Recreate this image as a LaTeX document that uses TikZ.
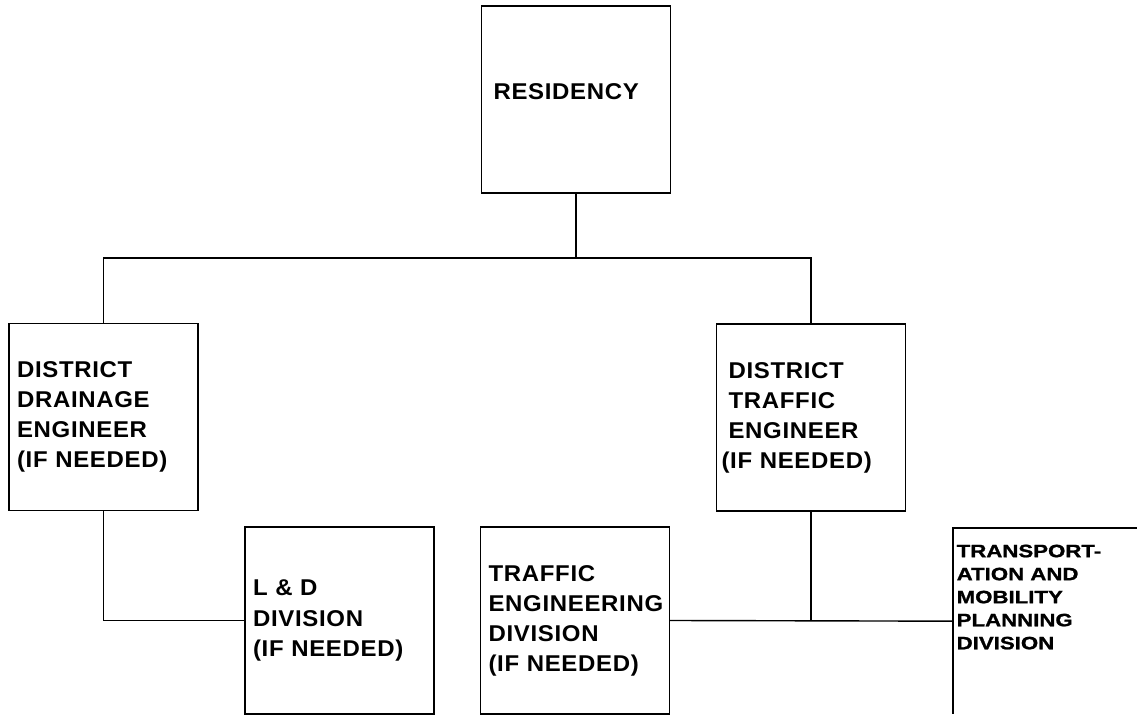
\documentclass[tikz,border=0pt]{standalone}
\usepackage{fontspec}
\setmainfont{Liberation Sans}
\newfontfamily\unitfont[FakeStretch=1.05,LetterSpace=3]{Liberation Sans}
\newfontfamily\widefont[FakeStretch=1.24,FakeBold=1.2]{Liberation Sans}
\usepackage{tikz}
\usetikzlibrary{positioning}
\begin{document}
\begin{tikzpicture}
	[x=0.02cm,y=-0.02cm,line width=0.8pt,
	unit/.style={rectangle,draw,minimum width=3.78cm,minimum height=3.74cm,inner xsep=0.16cm,text width=3.46cm,align=left,font=\unitfont\bfseries\fontsize{13}{17.1}\selectfont},
	open/.style={rectangle,minimum width=3.8cm,minimum height=3.7cm,inner sep=0pt},
	openlabel/.style={inner sep=0pt,align=left,font=\widefont\bfseries\fontsize{10.2}{13.1}\selectfont}]
	\useasboundingbox (0,0) rectangle (1137,715);
	\node [unit,inner xsep=0.24cm,text width=3.3cm,text depth=0.32cm] (res) at (576,99.5) {RESIDENCY};
	\node [unit] (dde) at (103.5,417) {DISTRICT\\DRAINAGE\\ENGINEER\\(IF NEEDED)};
	\node [unit,inner xsep=0.1cm,text width=3.58cm] (dte) at (811,417.5) {\hspace{0.14cm}DISTRICT\\\hspace{0.14cm}TRAFFIC\\\hspace{0.14cm}ENGINEER\\(IF NEEDED)};
	\node [unit] (ld) at (339.5,620.5) {L \& D\\DIVISION\\(IF NEEDED)};
	\node [unit] (ted) at (575,620.5) {TRAFFIC\\ENGINEERING\\DIVISION\\(IF NEEDED)};
	\node [open,anchor=north west] (tmp) at (953,528) {};
	\node [openlabel,anchor=north west] (tmplabel) at ([xshift=0.06cm,yshift=-0.32cm]tmp.north west) {TRANSPORT-\\ATION AND\\MOBILITY\\PLANNING\\DIVISION};
	\draw (tmp.north east) -- (tmp.north west) -- (tmp.south west);
	\coordinate (bus) at (576,258);
	\draw (res.south) -- (bus);
	\draw (dde.north) |- (bus) -| (dte.north);
	\draw (dde.south) |- (ld.west);
	\draw (ted.east) -- (tmp.west);
	\draw (dte.south) -- (dte.south |- tmp.west);
\end{tikzpicture}
\end{document}
